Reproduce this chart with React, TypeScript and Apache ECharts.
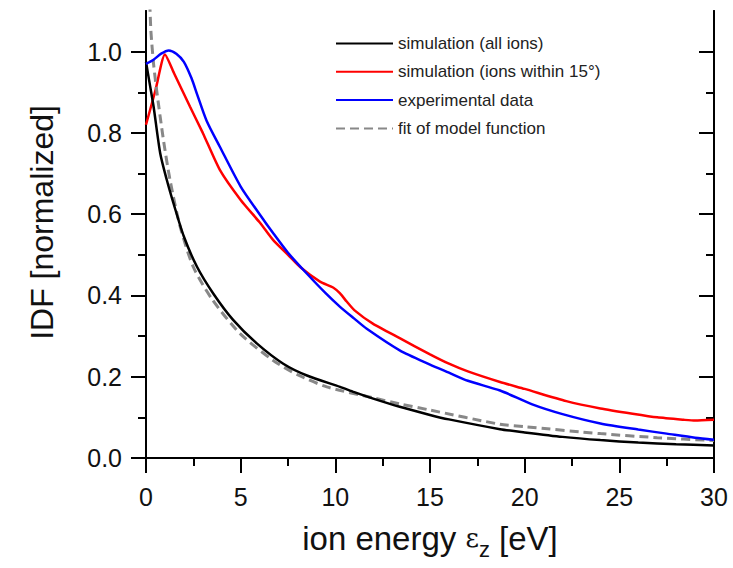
import React, { useEffect, useRef } from "react";
import * as echarts from "echarts";

const seriesNames = [
  "simulation (all ions)",
  "simulation (ions within 15°)",
  "experimental data",
  "fit of model function",
];

const allX = [0, 0.2, 0.4, 0.75, 1.1, 1.45, 2, 2.7, 3.55, 4.6, 5.85, 7.25, 8.5, 10.25, 11, 12, 13.4, 15, 16, 18.7, 20, 22, 24, 26, 28, 30];
const allY = [0.975, 0.92, 0.865, 0.75, 0.684, 0.627, 0.545, 0.47, 0.405, 0.34, 0.282, 0.232, 0.203, 0.175, 0.162, 0.146, 0.126, 0.106, 0.095, 0.071, 0.063, 0.052, 0.044, 0.038, 0.034, 0.031];

const within15X = [0, 0.5, 1.0, 1.5, 2.32, 3, 3.9, 5, 6, 6.72, 7.5, 8.14, 9.19, 9.9, 10.25, 10.6, 11, 12, 13.4, 15, 16, 17, 18.7, 20, 22.2, 24, 25.7, 27, 28.4, 29, 30];
const within15Y = [0.82, 0.905, 0.993, 0.945, 0.865, 0.8, 0.709, 0.635, 0.58, 0.536, 0.5, 0.47, 0.434, 0.419, 0.405, 0.385, 0.364, 0.33, 0.295, 0.255, 0.232, 0.213, 0.187, 0.17, 0.14, 0.122, 0.109, 0.1, 0.094, 0.092, 0.094];

const expX = [0, 0.4, 0.8, 1.2, 1.6, 2, 2.4, 2.7, 3.2, 3.9, 5, 6, 6.72, 7.5, 8.49, 9.5, 10.25, 11, 11.66, 13.4, 15, 16, 17, 18.7, 20.4, 22, 24, 26, 27.5, 29, 30];
const expY = [0.97, 0.98, 0.995, 1.003, 0.995, 0.975, 0.935, 0.895, 0.83, 0.766, 0.668, 0.6, 0.553, 0.505, 0.454, 0.405, 0.372, 0.343, 0.318, 0.265, 0.23, 0.21, 0.19, 0.166, 0.132, 0.108, 0.085, 0.07, 0.06, 0.05, 0.045];

const fitX = [0.2, 0.26, 0.4, 0.56, 0.92, 1.27, 1.8, 2.5, 3.5, 4.97, 6.72, 8, 9.55, 12, 13.4, 15, 18.7, 20, 24, 27, 30];
const fitY = [1.12, 1.05, 0.97, 0.906, 0.783, 0.684, 0.57, 0.47, 0.39, 0.306, 0.24, 0.205, 0.175, 0.148, 0.133, 0.118, 0.083, 0.077, 0.06, 0.05, 0.043];

const yMajorTicks = [0, 0.2, 0.4, 0.6, 0.8, 1.0];
const yMinorTicks = [0.1, 0.3, 0.5, 0.7, 0.9];

const FONT = "'Liberation Sans', Arial, sans-serif";

const pairs = (xs: number[], ys: number[]) => xs.map((x, i) => [x, ys[i]]);

export default function App() {
  const ref = useRef<HTMLDivElement>(null);
  useEffect(() => {
    if (!ref.current) return;
    const chart = echarts.init(ref.current, null, { renderer: "svg" });
    const axisLine = { show: true, lineStyle: { color: "#000", width: 2 } };
    const xCommon = {
      type: "value" as const,
      min: 0,
      max: 30,
      interval: 5,
      splitLine: { show: false },
      minorSplitLine: { show: false },
      axisLine,
    };
    const yCommon = {
      type: "value" as const,
      min: 0,
      max: 1.1,
      splitLine: { show: false },
      axisLine,
    };
    chart.setOption({
      animation: false,
      backgroundColor: "#fff",
      grid: { left: 146, right: 19, top: 11, bottom: 110, containLabel: false },
      legend: {
        orient: "vertical",
        left: 330,
        top: 30,
        itemWidth: 57,
        itemHeight: 14,
        itemGap: 11.3,
        data: seriesNames,
        itemStyle: { opacity: 0 },
        textStyle: { fontFamily: FONT, fontSize: 17, color: "#222" },
      },
      xAxis: [
        {
          ...xCommon,
          position: "bottom",
          axisTick: { show: true, inside: false, length: 15, lineStyle: { width: 2, color: "#000" } },
          minorTick: { show: true, splitNumber: 2, length: 8, lineStyle: { width: 2, color: "#000" } },
          axisLabel: { fontFamily: FONT, fontSize: 25, color: "#111", margin: 26 },
          name: "ion energy {e|ε}{sub|z} [eV]",
          nameLocation: "middle",
          nameGap: 58,
          nameTextStyle: {
            fontFamily: FONT,
            fontSize: 33,
            color: "#111",
            rich: {
              e: { fontFamily: "'DejaVu Serif', serif", fontSize: 26, color: "#111" },
              sub: { fontFamily: FONT, fontSize: 22, color: "#111", padding: [22, 0, 0, 0] },
            },
          },
        },
        {
          ...xCommon,
          position: "top",
          axisTick: { show: true, inside: true, length: 15, lineStyle: { width: 2, color: "#000" } },
          minorTick: { show: true, splitNumber: 2, length: 7, lineStyle: { width: 2, color: "#000" } },
          axisLabel: { show: false },
        },
      ],
      yAxis: [
        {
          ...yCommon,
          position: "left",
          axisTick: { show: true, inside: false, length: 15, customValues: yMajorTicks, lineStyle: { width: 2, color: "#000" } },
          axisLabel: {
            customValues: yMajorTicks,
            formatter: (v: number) => v.toFixed(1),
            fontFamily: FONT,
            fontSize: 25,
            color: "#111",
            margin: 24,
          },
          name: "IDF [normalized]",
          nameLocation: "middle",
          nameGap: 88,
          nameTextStyle: { fontFamily: FONT, fontSize: 32, color: "#111", padding: [0, 0, 0, 24] },
        },
        {
          ...yCommon,
          position: "left",
          axisTick: { show: true, inside: false, length: 8, customValues: yMinorTicks, lineStyle: { width: 2, color: "#000" } },
          axisLabel: { show: false },
        },
        {
          ...yCommon,
          position: "right",
          axisTick: { show: true, inside: true, length: 15, customValues: yMajorTicks, lineStyle: { width: 2, color: "#000" } },
          axisLabel: { show: false },
        },
        {
          ...yCommon,
          position: "right",
          axisTick: { show: true, inside: true, length: 8, customValues: yMinorTicks, lineStyle: { width: 2, color: "#000" } },
          axisLabel: { show: false },
        },
      ],
      series: [
        {
          name: seriesNames[0],
          type: "line",
          data: pairs(allX, allY),
          symbol: "none",
          smooth: 0.25,
          lineStyle: { color: "#000", width: 2.5 },
          itemStyle: { color: "#000" },
          z: 4,
        },
        {
          name: seriesNames[1],
          type: "line",
          data: pairs(within15X, within15Y),
          symbol: "none",
          smooth: 0.2,
          lineStyle: { color: "#ff0000", width: 2.5 },
          itemStyle: { color: "#ff0000" },
          z: 3,
        },
        {
          name: seriesNames[2],
          type: "line",
          data: pairs(expX, expY),
          symbol: "none",
          smooth: 0.25,
          lineStyle: { color: "#0000ff", width: 2.5 },
          itemStyle: { color: "#0000ff" },
          z: 5,
        },
        {
          name: seriesNames[3],
          type: "line",
          data: pairs(fitX, fitY),
          symbol: "none",
          smooth: 0.25,
          clip: true,
          lineStyle: { color: "#888", width: 3, type: [9, 5] },
          itemStyle: { color: "#888" },
          z: 3,
        },
      ],
    });
    return () => chart.dispose();
  }, []);
  return <div ref={ref} style={{ width: 733, height: 568, position: "absolute", left: 0, top: 0 }} />;
}
